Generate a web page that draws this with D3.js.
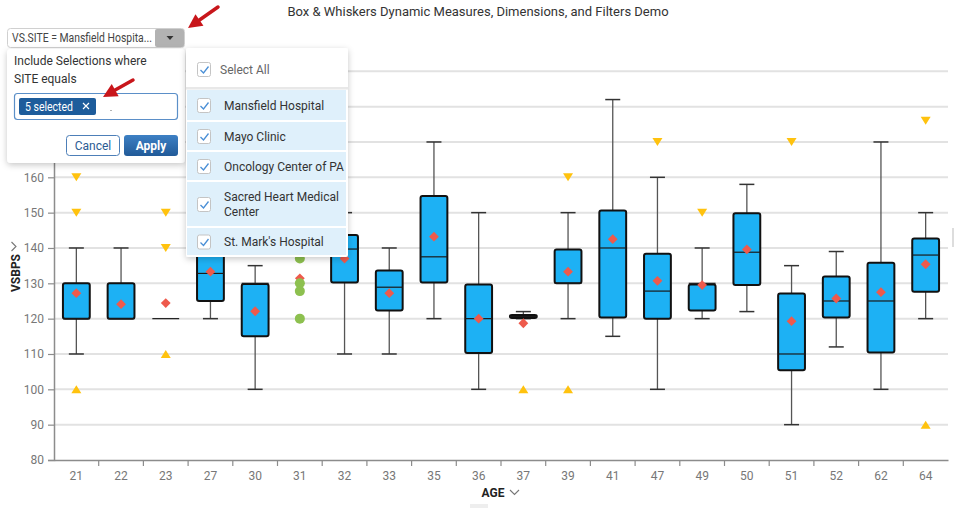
<!DOCTYPE html>
<html><head><meta charset="utf-8">
<script src="https://cdn.jsdelivr.net/npm/d3@7"></script>
<style>
html,body{margin:0;padding:0;background:#fff;}
svg{display:block;font-family:Roboto,"Noto Sans",sans-serif;}
</style></head><body>
<svg id="chart" width="956" height="508"></svg>
<script>
// ---------- DATA ----------
const title = "Box & Whiskers Dynamic Measures, Dimensions, and Filters Demo";
const categories = ["21","22","23","27","30","31","32","33","35","36","37","39","41","47","49","50","51","52","62","64"];
const whiskerLow  = [110,120,120,120,100,null,110,110,120,100,120,  120,115,100,120,122,90,  112,100,120];
const q1          = [120,120,120,125,115,null,130.2,122.3,130.2,110.3,120.2,130,120.3,120,122.3,129.5,105.4,120.3,110.4,127.6];
const medians     = [120,120,120,132.8,130,null,139.7,128.9,137.5,120,120.6,130,140,127.8,130,138.8,110,125,125,138];
const q3          = [130,130,120,143,129.8,null,143.7,133.6,154.7,129.7,121,139.6,150.6,138.4,129.7,149.8,127.1,131.9,135.8,142.7];
const whiskerHigh = [140,140,120,160,135,null,150,140,170,150,122,150,182,160,140,158,135,139,170,150];
const means       = [127.2,124.1,124.4,133.3,122.1,131.4,137,127.2,143.2,120,118.7,133.3,142.5,130.7,129.5,139.6,119.3,125.7,127.5,135.4];
const highOutliers = [[160,150],[],[150,140],[],[],[],[],[],[],[],[],[160],[],[170],[150],[],[170],[],[],[176]];
const lowOutliers  = [[100],[],[110],[],[],[],[],[],[],[],[100],[100],[],[],[],[],[],[],[],[90]];
const pointCategory = "31";
const pointValues = [142,137,130,127.8,120];
const yTicks = [80,90,100,110,120,130,140,150,160,170,180,190];
const yLabelTicks = [80,90,100,110,120,130,140,150,160];
const siteOptions = ["Mansfield Hospital","Mayo Clinic","Oncology Center of PA","Sacred Heart Medical|Center","St. Mark's Hospital"];

// ---------- CHART ----------
const svg = d3.select("#chart");
const x = d3.scaleBand().domain(categories).range([54, 948]).padding(0);
const y = d3.scaleLinear().domain([80, 190]).range([460, 71.3]);
const bw = x.bandwidth() * 0.6;
const cx = c => x(c) + x.bandwidth() / 2;

svg.append("text").attr("x", 478).attr("y", 15.5).attr("text-anchor", "middle")
  .attr("font-size", 13).attr("fill", "#333").text(title);

// gridlines
svg.append("g").selectAll("line").data(yTicks.filter(t => t > 80)).join("line")
  .attr("x1", 54).attr("x2", 948).attr("y1", d => y(d)).attr("y2", d => y(d))
  .attr("stroke", "#e2e2e2").attr("stroke-width", 2);

// y axis
const yAxis = svg.append("g").attr("transform", "translate(54,0)")
  .call(d3.axisLeft(y).tickValues(yLabelTicks).tickSize(6).tickPadding(4));
yAxis.select(".domain").attr("stroke", "#8c8c8c").attr("stroke-width", 1.5);
yAxis.selectAll(".tick line").attr("stroke", "#8c8c8c").attr("stroke-width", 1.2);
yAxis.selectAll(".tick text").attr("fill", "#777").attr("font-size", 12).attr("font-family", "Roboto");

// x axis
const xAxis = svg.append("g").attr("transform", "translate(0,460)")
  .call(d3.axisBottom(x).tickSize(0).tickPadding(11));
xAxis.select(".domain").attr("stroke", "#8c8c8c").attr("stroke-width", 1.5);
xAxis.selectAll(".tick text").attr("fill", "#777").attr("font-size", 12).attr("font-family", "Roboto");
svg.append("g").selectAll("line").data(categories.slice(1)).join("line")
  .attr("x1", d => x(d)).attr("x2", d => x(d)).attr("y1", 460).attr("y2", 466)
  .attr("stroke", "#8c8c8c").attr("stroke-width", 1.2);

// axis titles
svg.append("text").attr("x", 493).attr("y", 496.5).attr("text-anchor", "middle")
  .attr("font-size", 12).attr("font-weight", "bold").attr("fill", "#222").text("AGE");
svg.append("path").attr("d", "M510,490 L514.5,494.5 L519,490").attr("fill", "none").attr("stroke", "#777").attr("stroke-width", 1.1);
const yt = svg.append("g").attr("transform", "translate(19.5,273) rotate(-90)");
yt.append("text").attr("x", 0).attr("y", 0).attr("text-anchor", "middle")
  .attr("font-size", 12).attr("font-weight", "bold").attr("fill", "#222").text("VSBPS");
yt.append("path").attr("d", "M22,-8 L26.5,-3.5 L31,-8").attr("fill", "none").attr("stroke", "#777").attr("stroke-width", 1.1);

// box data
const boxes = categories.map((c, i) => ({c, lo: whiskerLow[i], q1: q1[i], med: medians[i], q3: q3[i], hi: whiskerHigh[i], mean: means[i]}));
const withBox = boxes.filter(d => d.q1 != null);
const g = svg.append("g");
// whiskers
g.selectAll(".wu").data(withBox.filter(d => d.hi > d.q3)).join("line")
  .attr("x1", d => cx(d.c)).attr("x2", d => cx(d.c)).attr("y1", d => y(d.hi)).attr("y2", d => y(d.q3))
  .attr("stroke", "#555").attr("stroke-width", 1.3);
g.selectAll(".wl").data(withBox.filter(d => d.lo < d.q1)).join("line")
  .attr("x1", d => cx(d.c)).attr("x2", d => cx(d.c)).attr("y1", d => y(d.q1)).attr("y2", d => y(d.lo))
  .attr("stroke", "#555").attr("stroke-width", 1.3);
g.selectAll(".cu").data(withBox.filter(d => d.hi > d.q3)).join("line")
  .attr("x1", d => cx(d.c) - 7.5).attr("x2", d => cx(d.c) + 7.5).attr("y1", d => y(d.hi)).attr("y2", d => y(d.hi))
  .attr("stroke", "#333").attr("stroke-width", 1.5);
g.selectAll(".cl").data(withBox.filter(d => d.lo < d.q1)).join("line")
  .attr("x1", d => cx(d.c) - 7.5).attr("x2", d => cx(d.c) + 7.5).attr("y1", d => y(d.lo)).attr("y2", d => y(d.lo))
  .attr("stroke", "#333").attr("stroke-width", 1.5);
// boxes
g.selectAll(".box").data(withBox).join("rect")
  .attr("x", d => cx(d.c) - bw / 2).attr("width", bw)
  .attr("y", d => y(d.q3)).attr("height", d => Math.max(0, y(d.q1) - y(d.q3)))
  .attr("rx", 2).attr("fill", "#1DB1F4")
  .attr("stroke", d => (d.q3 - d.q1) > 0 ? "#111" : "#1f3f5a")
  .attr("stroke-width", d => (d.q3 - d.q1) > 0 ? 2 : 1.3);
g.selectAll(".med").data(withBox).join("line")
  .attr("x1", d => cx(d.c) - bw / 2).attr("x2", d => cx(d.c) + bw / 2)
  .attr("y1", d => y(d.med)).attr("y2", d => y(d.med))
  .attr("stroke", "#1a1a1a").attr("stroke-width", 1.2);
// means
g.selectAll(".mean").data(boxes).join("path")
  .attr("d", d3.symbol(d3.symbolSquare, 48)())
  .attr("transform", d => `translate(${cx(d.c)},${y(d.mean)}) rotate(45)`)
  .attr("fill", "#EE5A4C");
// outliers
const tri = (up) => up ? "M-5,4 L5,4 L0,-4 Z" : "M-5,-4 L5,-4 L0,4 Z";
const hiO = [], loO = [];
categories.forEach((c, i) => { highOutliers[i].forEach(v => hiO.push({c, v})); lowOutliers[i].forEach(v => loO.push({c, v})); });
g.selectAll(".ho").data(hiO).join("path").attr("d", tri(false))
  .attr("transform", d => `translate(${cx(d.c)},${y(d.v)})`).attr("fill", "#FFC20E");
g.selectAll(".lo").data(loO).join("path").attr("d", tri(true))
  .attr("transform", d => `translate(${cx(d.c)},${y(d.v)})`).attr("fill", "#FFC20E");
// points
g.selectAll(".pt").data(pointValues).join("circle")
  .attr("cx", cx(pointCategory)).attr("cy", d => y(d)).attr("r", 5).attr("fill", "#8DC04F");

// small UI remnants
svg.append("rect").attr("x", 952).attr("y", 228).attr("width", 2).attr("height", 19).attr("fill", "#ddd");
svg.append("rect").attr("x", 470).attr("y", 504).attr("width", 18).attr("height", 4).attr("fill", "#eee");

// ---------- FILTER UI OVERLAY ----------
const defs = svg.append("defs");
const f = defs.append("filter").attr("id", "sh").attr("x", "-10%").attr("y", "-10%").attr("width", "130%").attr("height", "130%");
f.append("feDropShadow").attr("dx", 0).attr("dy", 2).attr("stdDeviation", 3).attr("flood-color", "#000").attr("flood-opacity", 0.22);
const gr = defs.append("linearGradient").attr("id", "ap").attr("x1", 0).attr("y1", 0).attr("x2", 0).attr("y2", 1);
gr.append("stop").attr("offset", 0).attr("stop-color", "#3d80c4");
gr.append("stop").attr("offset", 1).attr("stop-color", "#215a98");

const ui = svg.append("g");
// filter control
ui.append("rect").attr("x", 7.5).attr("y", 28.5).attr("width", 177).attr("height", 19).attr("rx", 3)
  .attr("fill", "#fff").attr("stroke", "#d0d0d0");
ui.append("rect").attr("x", 155).attr("y", 29).attr("width", 29).attr("height", 18).attr("rx", 2).attr("fill", "#b2b2b2");
ui.append("path").attr("d", "M166.5,36 L173.5,36 L170,40 Z").attr("fill", "#333");
ui.append("text").attr("x", 12).attr("y", 41.5).attr("font-size", 12).attr("fill", "#444")
  .attr("textLength", 140).attr("lengthAdjust", "spacingAndGlyphs").text("VS.SITE = Mansfield Hospita...");

// left popup
ui.append("rect").attr("x", 7).attr("y", 49).attr("width", 178).attr("height", 114).attr("rx", 4)
  .attr("fill", "#fff").attr("filter", "url(#sh)");
ui.append("text").attr("x", 14).attr("y", 65).attr("font-size", 12).attr("fill", "#333").text("Include Selections where");
ui.append("text").attr("x", 14).attr("y", 83).attr("font-size", 12).attr("fill", "#333").text("SITE equals");
ui.append("rect").attr("x", 14.5).attr("y", 93.5).attr("width", 163).attr("height", 26).attr("rx", 3)
  .attr("fill", "#fff").attr("stroke", "#5b8fc8").attr("stroke-width", 1.2);
ui.append("rect").attr("x", 19).attr("y", 98).attr("width", 77).attr("height", 17).attr("rx", 2).attr("fill", "#1d5c9b");
ui.append("text").attr("x", 25).attr("y", 110.5).attr("font-size", 12).attr("fill", "#fff")
  .attr("textLength", 48).attr("lengthAdjust", "spacingAndGlyphs").text("5 selected");
ui.append("path").attr("d", "M83,103 L89,109 M89,103 L83,109").attr("stroke", "#fff").attr("stroke-width", 1.2);
ui.append("rect").attr("x", 110.5).attr("y", 110).attr("width", 1).attr("height", 1).attr("fill", "#666");
ui.append("rect").attr("x", 66.5).attr("y", 135.5).attr("width", 53).attr("height", 20).attr("rx", 3)
  .attr("fill", "#fff").attr("stroke", "#4d7fb8");
ui.append("text").attr("x", 93).attr("y", 150).attr("text-anchor", "middle").attr("font-size", 12).attr("fill", "#2b5c93").text("Cancel");
ui.append("rect").attr("x", 124).attr("y", 135).attr("width", 54).attr("height", 21).attr("rx", 3).attr("fill", "url(#ap)");
ui.append("text").attr("x", 151).attr("y", 150).attr("text-anchor", "middle").attr("font-size", 12).attr("font-weight", "bold").attr("fill", "#fff").text("Apply");

// right popup list
ui.append("rect").attr("x", 186).attr("y", 48).attr("width", 162).attr("height", 209).attr("rx", 2)
  .attr("fill", "#fff").attr("filter", "url(#sh)");
ui.append("rect").attr("x", 186).attr("y", 87).attr("width", 162).attr("height", 2.5).attr("fill", "#e8e8e8");
const checkbox = (yy) => {
  ui.append("rect").attr("x", 197.5).attr("y", yy + 0.5).attr("width", 13).attr("height", 14).attr("rx", 2)
    .attr("fill", "#fff").attr("stroke", "#c4c4c4");
  ui.append("path").attr("d", `M200.5,${yy + 8} L203.5,${yy + 11} L208.5,${yy + 4.5}`)
    .attr("fill", "none").attr("stroke", "#4a8fd6").attr("stroke-width", 1.3);
};
checkbox(62);
ui.append("text").attr("x", 220).attr("y", 73.5).attr("font-size", 12).attr("fill", "#666").text("Select All");
const rowTops = [90, 122, 152, 182, 228];
const rowBottoms = [120, 150, 180, 226, 255];
siteOptions.forEach((s, i) => {
  const t = rowTops[i], b = rowBottoms[i], mid = (t + b) / 2;
  ui.append("rect").attr("x", 187).attr("y", t).attr("width", 159).attr("height", b - t).attr("fill", "#dff0fb");
  checkbox(mid - 7);
  const lines = s.split("|");
  lines.forEach((ln, k) => {
    ui.append("text").attr("x", 224).attr("y", mid + 4.5 + (k - (lines.length - 1) / 2) * 15)
      .attr("font-size", 12).attr("fill", "#333").text(ln);
  });
});

// red arrows
const arrow = (x1, y1, x2, y2) => {
  const dx = x2 - x1, dy = y2 - y1, L = Math.hypot(dx, dy), ux = dx / L, uy = dy / L;
  const bx = x2 - 14 * ux, by = y2 - 14 * uy, nx = -uy, ny = ux;
  ui.append("line").attr("x1", x1).attr("y1", y1).attr("x2", bx).attr("y2", by)
    .attr("stroke", "#c8161b").attr("stroke-width", 3.5).attr("stroke-linecap", "round");
  ui.append("path").attr("d", `M${x2},${y2} L${bx + 7 * nx},${by + 7 * ny} L${bx - 7 * nx},${by - 7 * ny} Z`)
    .attr("fill", "#c8161b");
};
arrow(218, 7, 188, 28);
arrow(133, 80, 103, 97);
</script>
</body></html>
